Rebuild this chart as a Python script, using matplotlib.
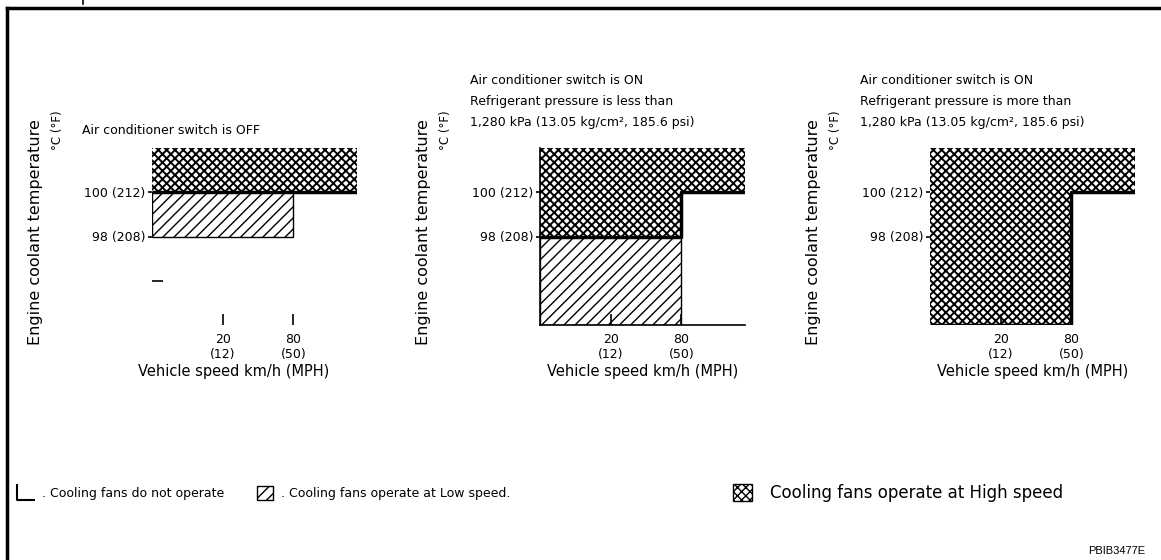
import numpy as np
import matplotlib
matplotlib.use('Agg')
import matplotlib.pyplot as plt
from matplotlib.lines import Line2D
from matplotlib.patches import Patch
from matplotlib.path import Path

plt.rcParams['font.family'] = ['DejaVu Sans']
plt.rcParams['hatch.linewidth'] = 1.0

# 数据
speed_ticks = [20, 80]          # km/h
speed_ticks_mph = [12, 50]
speed_limit = 80                # 80 km/h 分界
speed_max = 120                 # 示意图右端
temp_ticks = [100, 98]          # °C
temp_ticks_f = [212, 208]
temp_min, temp_max = 94, 102

titles = [
    'Air conditioner switch is OFF',
    'Air conditioner switch is ON\nRefrigerant pressure is less than\n1,280 kPa (13.05 kg/cm², 185.6 psi)',
    'Air conditioner switch is ON\nRefrigerant pressure is more than\n1,280 kPa (13.05 kg/cm², 185.6 psi)',
]
# 高速起始温度 (低于 / 高于 80 km/h)
high_below = [100, 98, 94]
high_above = [100, 100, 100]
# 低速温度区间 (低于 80 km/h)
low_band = [(98, 100), (94, 98), None]

legend_labels = [
    '. Cooling fans do not operate',
    '. Cooling fans operate at Low speed.',
    'Cooling fans operate at High speed',
]

HATCH_LOW = '///'
HATCH_HIGH = 'xxxx'
HW_LOW, HW_HIGH = 1.0, 1.4
FS = 9

knots_v = [0, 20, 80, 120]
knots_p = [0, 1, 2, 2.9]


def fwd(v):
    return np.interp(v, knots_v, knots_p)


def inv(p):
    return np.interp(p, knots_p, knots_v)


def set_hw(patches, w):
    for p in patches:
        if hasattr(p, 'set_hatch_linewidth'):
            p.set_hatch_linewidth(w)


fig = plt.figure(figsize=(11.61, 5.6), dpi=100)
W, H = 1161, 560

# 外框
fig.add_artist(Line2D([7 / W, 1], [1 - 8 / H, 1 - 8 / H], color='black', lw=2.5))
fig.add_artist(Line2D([7 / W, 7 / W], [0, 1 - 8 / H], color='black', lw=2.5))
fig.add_artist(Line2D([83 / W, 83 / W], [1, 1 - 4 / H], color='black', lw=1.2))

lefts = [152, 540, 930]
title_y = [1.06, 1.11, 1.11]
xlabel_x = [0.40, 0.5, 0.5]
for i, lx in enumerate(lefts):
    ax = fig.add_axes([lx / W, 1 - 325 / H, 205 / W, 177 / H])
    ax.set_xscale('function', functions=(fwd, inv))
    ax.set_xlim(0, speed_max)
    ax.set_ylim(temp_min, temp_max)

    hb, ha = high_below[i], high_above[i]
    with plt.rc_context({'hatch.linewidth': HW_HIGH}):
        b1 = ax.bar(speed_limit, temp_max - ha, bottom=ha, width=speed_max - speed_limit,
                    align='edge', facecolor='white', edgecolor='black', linewidth=0,
                    hatch=HATCH_HIGH)
        b2 = ax.bar(0, temp_max - hb, bottom=hb, width=speed_limit, align='edge',
                    facecolor='white', edgecolor='black', linewidth=0, hatch=HATCH_HIGH)
    set_hw(list(b1) + list(b2), HW_HIGH)
    if low_band[i]:
        lo, hi = low_band[i]
        b3 = ax.bar(0, hi - lo, bottom=lo, width=speed_limit, align='edge',
                    facecolor='white', edgecolor='black', linewidth=1.0, hatch=HATCH_LOW)
        set_hw(b3, HW_LOW)
    ax.plot([0, speed_limit, speed_limit, speed_max], [hb, hb, ha, ha], color='black', lw=2.5,
            solid_capstyle='butt')

    for sp in ax.spines.values():
        sp.set_visible(False)
    if i == 1:
        ax.spines['left'].set_visible(True)
        ax.spines['bottom'].set_visible(True)
        ax.spines['left'].set_linewidth(1.2)
        ax.spines['bottom'].set_linewidth(1.2)

    ax.set_xticks(speed_ticks)
    ax.set_xticklabels([f'{k}\n({m})' for k, m in zip(speed_ticks, speed_ticks_mph)], fontsize=FS)
    ax.xaxis.set_minor_locator(matplotlib.ticker.NullLocator())
    ax.tick_params(axis='x', direction='in', length=8, width=1.2, pad=6)
    ax.set_yticks(temp_ticks)
    ax.set_yticklabels([f'{c} ({f})' for c, f in zip(temp_ticks, temp_ticks_f)], fontsize=FS)
    ax.tick_params(axis='y', direction='out', length=3, width=1.2, pad=2)
    if i == 0:
        ax.set_yticks([96], minor=True)
        ax.tick_params(axis='y', which='minor', direction='in', length=8, width=1.2)

    ax.set_xlabel('Vehicle speed km/h (MPH)', fontsize=10.5)
    ax.xaxis.set_label_coords(xlabel_x[i], -0.26)
    ax.xaxis.label.set_va('center')
    ax.set_ylabel('Engine coolant temperature', fontsize=11.5)
    ax.yaxis.label.set_va('center')
    ax.yaxis.set_label_coords(-0.57, 0.525)
    ax.text(-0.46, 1.21, '°C (°F)', transform=ax.transAxes, rotation=90, ha='center', va='top',
            fontsize=8.5)
    ax.text(-0.34, title_y[i], titles[i], transform=ax.transAxes, ha='left', va='bottom',
            fontsize=FS, linespacing=1.8)

# 图例
l_marker = Path([(-0.55, 0.5), (-0.55, -0.5), (0.55, -0.5)],
                [Path.MOVETO, Path.LINETO, Path.LINETO])
p_low = Patch(facecolor='white', edgecolor='black', linewidth=1.0, hatch=HATCH_LOW)
p_high = Patch(facecolor='white', edgecolor='black', linewidth=1.0, hatch=HATCH_HIGH)
set_hw([p_high], HW_HIGH)
handles = [
    Line2D([], [], marker=l_marker, markersize=13, color='black', linestyle='None',
           markerfacecolor='none', markeredgewidth=1.5),
    p_low,
    p_high,
]
leg_x = [18, 257, 733]
leg_fs = [FS, FS, 12]
leg_hl = [1.3, 1.3, 1.15]
leg_pad = [0.6, 0.6, 1.05]
for h, lab, x, fs, hl, pad in zip(handles, legend_labels, leg_x, leg_fs, leg_hl, leg_pad):
    fig.legend([h], [lab], loc='center left', bbox_to_anchor=(x / W, 1 - 493 / H),
               frameon=False, fontsize=fs, handlelength=hl, handleheight=hl,
               handletextpad=pad, borderpad=0, borderaxespad=0)

fig.text(1145 / W, 1 - 551 / H, 'PBIB3477E', ha='right', va='center', fontsize=8,
         family='Liberation Sans')

fig.savefig('out.png', dpi=100)
